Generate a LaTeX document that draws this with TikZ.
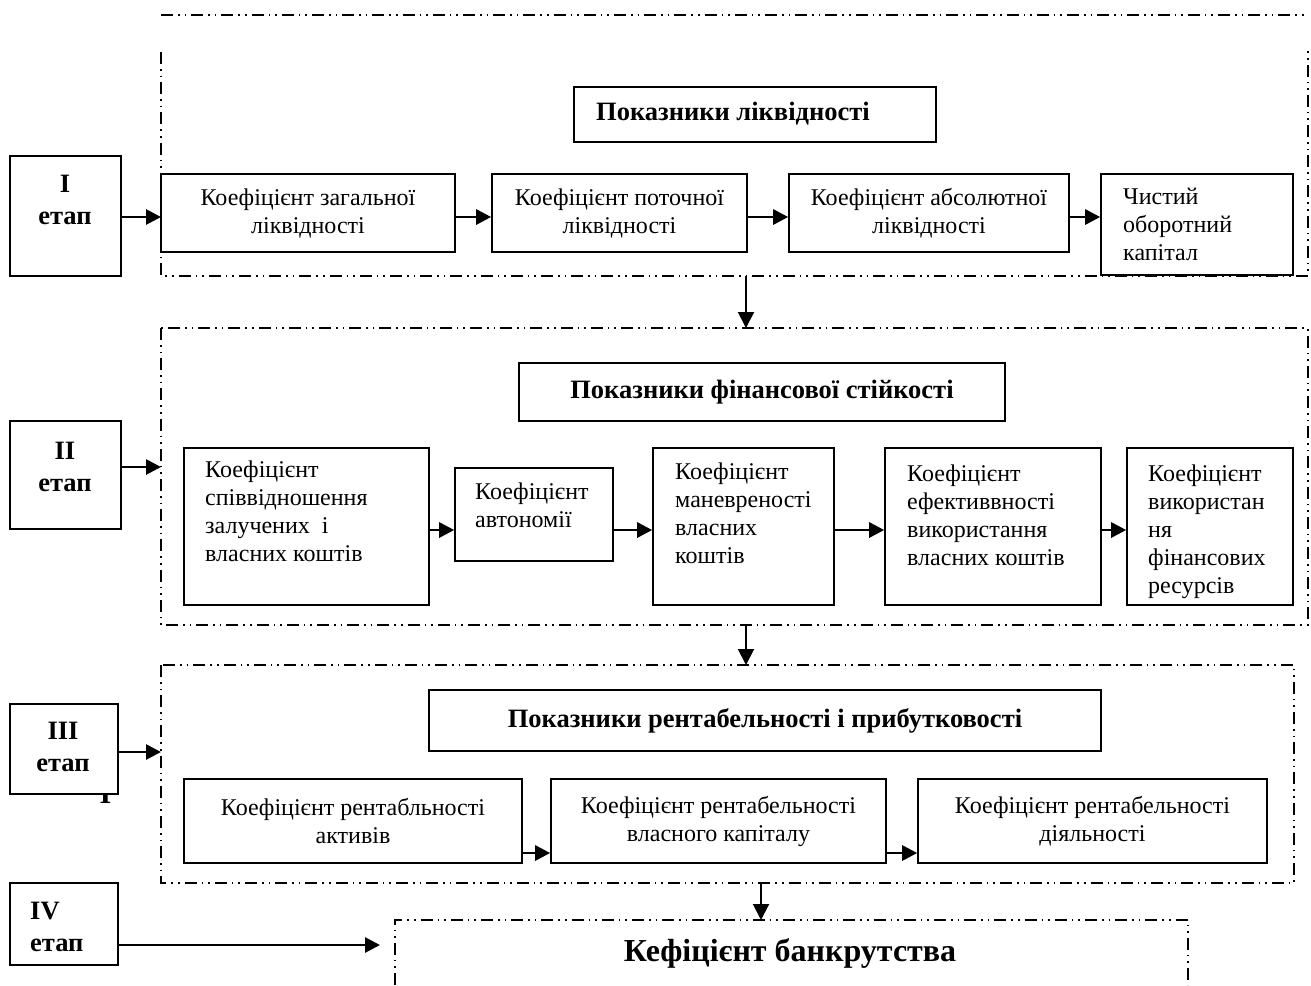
\documentclass[tikz,border=0pt]{standalone}
\usepackage{fontspec}
\setmainfont{Liberation Serif}
\usetikzlibrary{arrows.meta}
\begin{document}
\begin{tikzpicture}[x=1pt,y=-1pt,
  frame/.style={draw, line width=1.6pt, dash pattern=on 12pt off 5pt on 1.6pt off 5pt on 1.6pt off 5pt},
  box/.style={draw, line width=1.6pt, fill=white, inner sep=0pt},
  txt/.style={inner sep=0pt, font=\fontsize{24}{28}\selectfont},
  btxt/.style={inner sep=0pt, font=\bfseries\fontsize{26.5}{30}\selectfont},
  stagetxt/.style={inner sep=0pt, align=center, font=\bfseries\fontsize{26.5}{32}\selectfont},
  arr/.style={-{Triangle[length=15pt,width=15pt]}, line width=2.8pt},
  varr/.style={-{Triangle[length=16pt,width=16pt]}, line width=2pt}]
\useasboundingbox (0,0) rectangle (1311,985);

% ---- dash-dot-dot frames of the four stages ----
\draw[frame] (161,15) -- (1308,15);
\draw[frame] (161,52) -- (161,276) -- (1308,276) -- (1308,50);
\draw[frame] (161,328) rectangle (1308,625);
\draw[frame] (161,665) rectangle (1294,883);
\draw[frame] (395,985) -- (395,920) -- (1188,920) -- (1188,985);

\coordinate (f1b) at (746,276);
\coordinate (f2t) at (746,328);
\coordinate (f2b) at (746,625);
\coordinate (f3t) at (746,665);
\coordinate (f3b) at (761,883);
\coordinate (f4t) at (761,920);
\coordinate (f1w) at (161,217);
\coordinate (f2w) at (161,467);
\coordinate (f3w) at (161,752);
\coordinate (f4w) at (380,945);

% ---- stage labels ----
\node[btxt, font=\bfseries\fontsize{30}{32}\selectfont, anchor=base] (strayI) at (105.5,803) {I};
\node[box, minimum width=111pt, minimum height=120pt] (s1) at (65.5,216) {};
\node[box, minimum width=111pt, minimum height=108pt] (s2) at (65.5,475) {};
\node[box, minimum width=108pt, minimum height=90pt] (s3) at (64,749) {};
\node[box, minimum width=108pt, minimum height=82pt] (s4) at (64,924) {};
\node[stagetxt] (s1t) at (65,200) {I\\етап};
\node[stagetxt] (s2t) at (65,467) {II\\етап};
\node[stagetxt] (s3t) at (63,747) {III\\етап};
\node[stagetxt, align=left, anchor=west] (s4t) at (30,927) {IV\\етап};

\draw[arr] (s1.east |- f1w) -- (f1w);
\draw[arr] (s2.east |- f2w) -- (f2w);
\draw[arr] (s3.east |- f3w) -- (f3w);
\draw[arr] (s4.east |- f4w) -- (f4w);

% ---- stage I: liquidity ----
\node[box, minimum width=362pt, minimum height=55pt] (t1) at (755,114.5) {};
\node[btxt, anchor=west] (t1t) at (596,114) {Показники ліквідності};

\node[box, txt, align=center, minimum width=294pt, minimum height=78pt] (b1) at (308,213) {Коефіцієнт загальної\\ліквідності};
\node[box, txt, align=center, minimum width=255pt, minimum height=78pt] (b2) at (619.5,213) {Коефіцієнт поточної\\ліквідності};
\node[box, txt, align=center, minimum width=280pt, minimum height=78pt] (b3) at (929,213) {Коефіцієнт абсолютної\\ліквідності};
\node[box, minimum width=192pt, minimum height=101pt] (b4) at (1197,224.5) {};
\node[txt, align=left, anchor=north west] (b4t) at (1123,188) {Чистий\\оборотний\\капітал};

\coordinate (r1) at ([yshift=-4pt]b1.east);
\coordinate (r1b) at ([yshift=-4pt]b2.east);
\coordinate (r1c) at ([yshift=-4pt]b3.east);
\draw[arr] (r1) -- (r1 -| b2.west);
\draw[arr] (r1b) -- (r1b -| b3.west);
\draw[arr] (r1c) -- (r1c -| b4.west);

\draw[varr] (f1b) -- (f2t);

% ---- stage II: financial stability ----
\node[box, btxt, minimum width=486pt, minimum height=58pt] (t2) at (762,392) {Показники фінансової стійкості};

\node[box, minimum width=245pt, minimum height=157pt] (c1) at (306.5,526.5) {};
\node[box, minimum width=158pt, minimum height=93pt] (c2) at (534,514.5) {};
\node[box, minimum width=181pt, minimum height=157pt] (c3) at (743.5,526.5) {};
\node[box, minimum width=216pt, minimum height=157pt] (c4) at (993,526.5) {};
\node[box, minimum width=166pt, minimum height=157pt] (c5) at (1210,526.5) {};
\node[txt, align=left, anchor=north west] (c1t) at (205,461) {Коефіцієнт\\співвідношення\\залучених~ і\\власних коштів};
\node[txt, align=left, anchor=north west] (c2t) at (475,483) {Коефіцієнт\\автономії};
\node[txt, align=left, anchor=north west] (c3t) at (675,463) {Коефіцієнт\\маневреності\\власних\\коштів};
\node[txt, align=left, anchor=north west] (c4t) at (907,465) {Коефіцієнт\\ефективвності\\використання\\власних коштів};
\node[txt, align=left, anchor=north west] (c5t) at (1148,465) {Коефіцієнт\\використан\\ня\\фінансових\\ресурсів};

\coordinate (r2) at ([yshift=-3.5pt]c1.east);
\draw[arr] (r2) -- (r2 -| c2.west);
\draw[arr] (r2 -| c2.east) -- (r2 -| c3.west);
\draw[arr] (r2 -| c3.east) -- (r2 -| c4.west);
\draw[arr] (r2 -| c4.east) -- (r2 -| c5.west);

\draw[varr] (f2b) -- (f3t);

% ---- stage III: profitability ----
\node[box, btxt, minimum width=672pt, minimum height=61pt] (t3) at (765,720.5) {Показники рентабельності і прибутковості};

\node[box, txt, align=center, minimum width=338pt, minimum height=84pt] (d1) at (353,821) {Коефіцієнт рентабльності\\активів};
\node[box, txt, align=center, minimum width=335pt, minimum height=84pt] (d2) at (718.5,821) {Коефіцієнт рентабельності\\власного капіталу};
\node[box, txt, align=center, minimum width=349pt, minimum height=84pt] (d3) at (1092.5,821) {Коефіцієнт рентабельності\\діяльності};

\coordinate (r3) at ([yshift=-32pt]d1.east);
\draw[arr] (r3) -- (r3 -| d2.west);
\draw[arr] (r3 -| d2.east) -- (r3 -| d3.west);

\draw[varr] (f3b) -- (f4t);

% ---- stage IV: bankruptcy ----
\node[inner sep=0pt, font=\bfseries\fontsize{32}{38}\selectfont] (bk) at (790,953) {Кефіцієнт банкрутства};
\end{tikzpicture}
\end{document}
